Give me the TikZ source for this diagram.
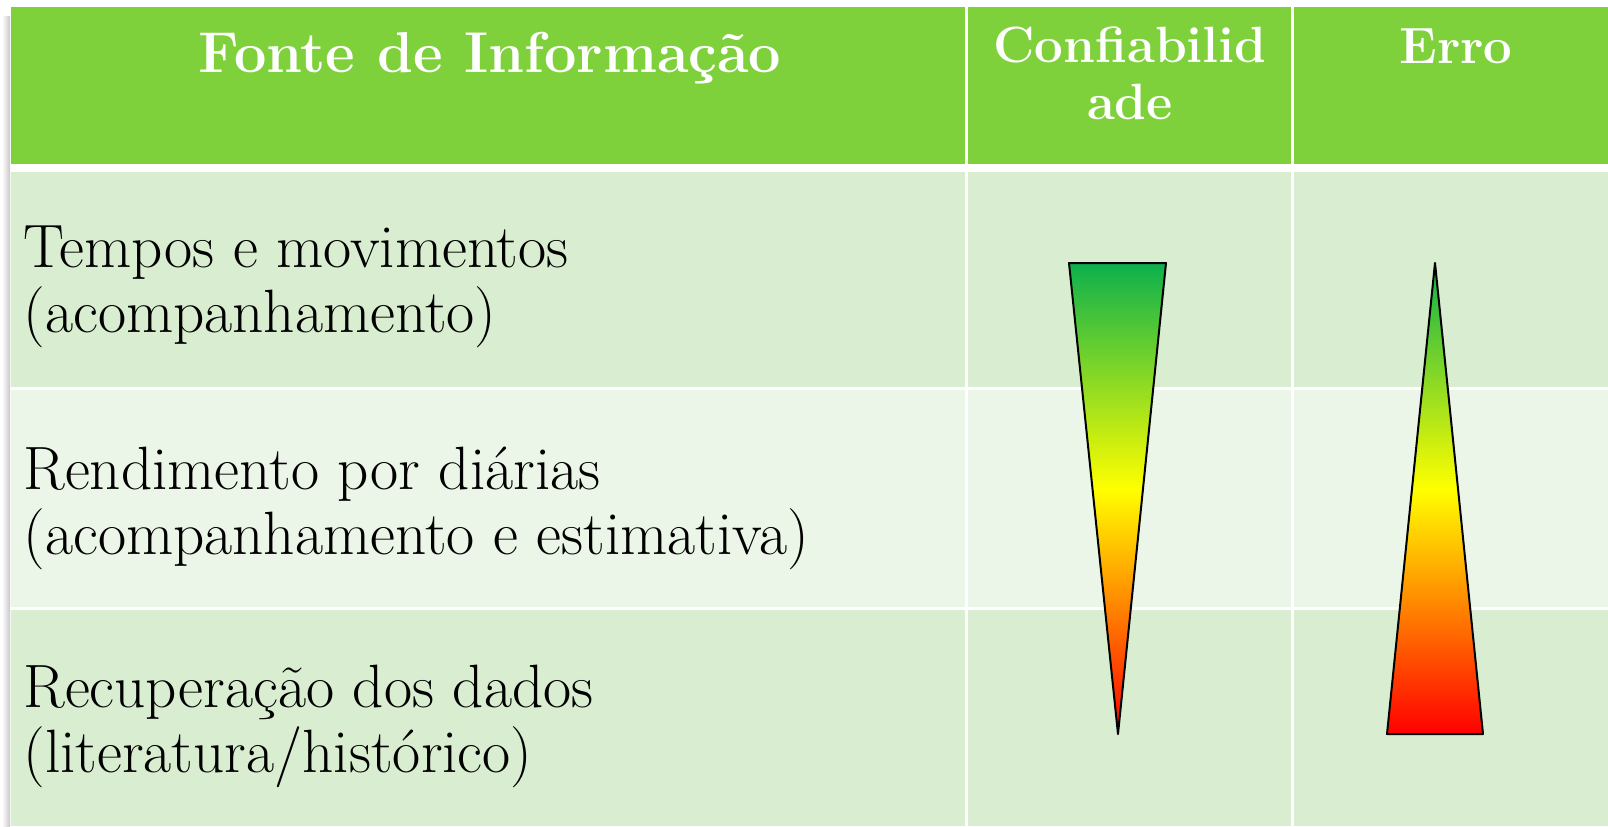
\documentclass[tikz,border=0pt]{standalone}
\usetikzlibrary{shadings}
\definecolor{hdr}{RGB}{127,209,60}
\definecolor{rowa}{RGB}{217,237,209}
\definecolor{rowb}{RGB}{236,246,232}
\definecolor{tgrn}{RGB}{12,176,76}
\definecolor{tyel}{RGB}{255,255,0}
\definecolor{tred}{RGB}{255,0,0}
\pgfdeclareverticalshading{gyr}{100bp}{color(0bp)=(tred); color(25bp)=(tred); color(51bp)=(tyel); color(75bp)=(tgrn); color(100bp)=(tgrn)}
\tikzset{
  hdrtext/.style={text=white, font=\fontsize{25.5}{28.5}\selectfont\bfseries, align=center, inner sep=0pt},
  bodytext/.style={text=black, font=\fontsize{30.6}{32.25}\selectfont, align=left, inner sep=0pt},
  tri/.style={shading=gyr, draw=black, line width=1pt, line join=round}
}
\begin{document}
\begin{tikzpicture}[x=0.5pt, y=-0.5pt]
\useasboundingbox (0,0) rectangle (1608,826);
\fill[white] (0,0) rectangle (1608,826);
% left shadow
\shade[left color=white, right color=black!22] (2,16) rectangle (10,826);
% header cells
\fill[hdr] (11,7) rectangle (965,164);
\fill[hdr] (968,7) rectangle (1291,164);
\fill[hdr] (1294,7) rectangle (1608,164);
% body rows
\fill[rowa] (11,172) rectangle (965,387);
\fill[rowa] (968,172) rectangle (1291,387);
\fill[rowa] (1294,172) rectangle (1608,387);
\fill[rowb] (11,390) rectangle (965,607);
\fill[rowb] (968,390) rectangle (1291,607);
\fill[rowb] (1294,390) rectangle (1608,607);
\fill[rowa] (11,610) rectangle (965,826);
\fill[rowa] (968,610) rectangle (1291,826);
\fill[rowa] (1294,610) rectangle (1608,826);
% header texts
\node[hdrtext, font=\fontsize{28.8}{31}\selectfont\bfseries, anchor=base] (fonte) at (490,72) {Fonte de Informação};
\node[hdrtext, anchor=base] (conf) at (1130,119) {Confiabilid\\ade};
\node[hdrtext, anchor=base] (erro) at (1456,63) {Erro};
% body texts (base = last line)
\node[bodytext, anchor=base west] (r1) at (23,332) {Tempos e movimentos\\(acompanhamento)};
\node[bodytext, anchor=base west] (r2) at (23,554) {Rendimento por diárias\\(acompanhamento e estimativa)};
\node[bodytext, anchor=base west] (r3) at (23,772) {Recuperação dos dados\\(literatura/histórico)};
% triangles
\draw[tri] (1069,263) -- (1166,263) -- (1118,734) -- cycle;
\draw[tri] (1435,263) -- (1483,734) -- (1387,734) -- cycle;
\end{tikzpicture}
\end{document}
